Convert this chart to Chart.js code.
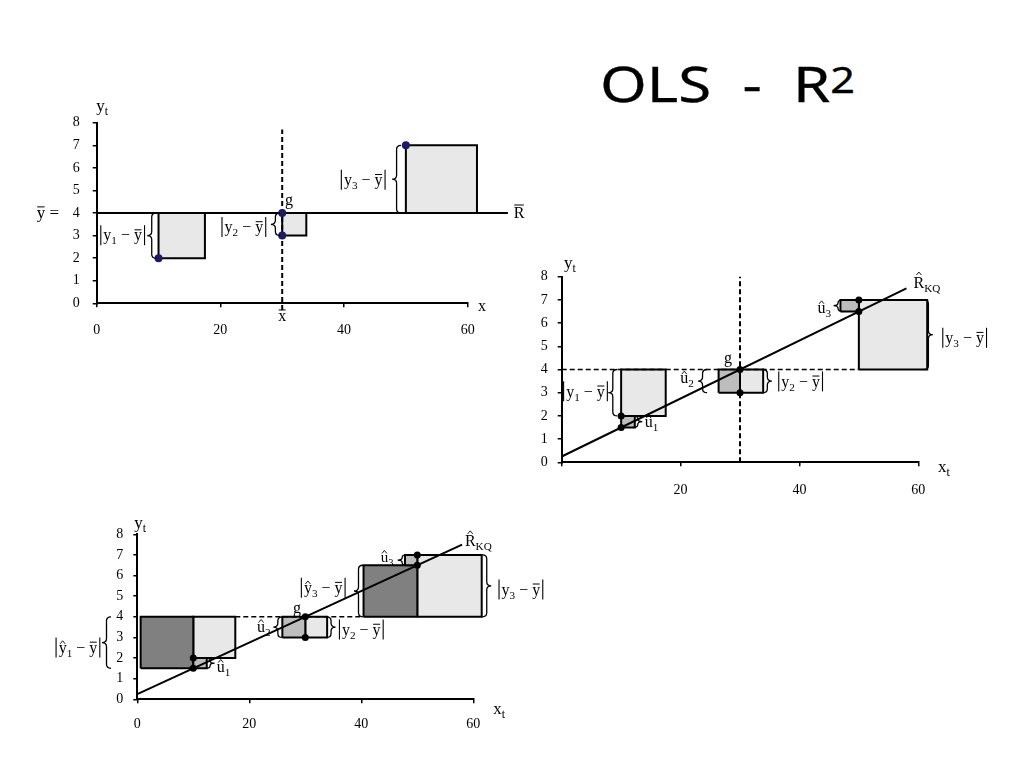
<!DOCTYPE html>
<html>
<head>
<meta charset="utf-8">
<script src="https://cdn.jsdelivr.net/npm/chart.js@4/dist/chart.umd.min.js"></script>
<style>
  body { margin: 0; background: #fff; width: 1024px; height: 768px; position: relative; overflow: hidden; }
  canvas { position: absolute; }
  #title { position: absolute; left: 600px; top: 55px; font-family: "Noto Sans"; font-size: 50px; line-height: 50px;
           word-spacing: 13px; color: #000; white-space: nowrap; -webkit-text-stroke: 0.3px #000;
           transform: scaleX(1.2); transform-origin: left top; }
  #title span { font-size: 36px; vertical-align: 9px; }
</style>
</head>
<body>
<div id="title">OLS - R<span>2</span></div>
<canvas id="c1"></canvas>
<canvas id="c2"></canvas>
<canvas id="c3"></canvas>
<script>
// values
const xTicks = [0, 20, 40, 60];
const yTicks = [0, 1, 2, 3, 4, 5, 6, 7, 8];
const obsX = [10, 30, 50];
const obsY = [2, 3, 7];
const fitY = [1.5, 4, 6.5];
const yMean = 4;
const xMean = 30;
const fitLineX = [0, 58];
const fitLineY = [0.25, 7.5];
// squares as [x0, y0, x1, y1]
const sqTotal = [[10, 2, 17.5, 4], [30, 3, 33.9, 4], [50, 4, 61.5, 7]];
const sqResid2 = [[10, 1.5, 12.3, 2], [26.4, 3, 30, 4], [46.9, 6.5, 50, 7]];
const sqResid3 = [[10, 1.5, 12.4, 2], [25.9, 3, 30, 4], [47.8, 6.5, 50, 7]];
const sqFit3 = [[0.6, 1.5, 10, 4], [40.4, 4, 50, 6.5]];
// extents of the guide lines
const meanLine1 = [0, 66.5];
const meanDash2 = [0, 50];
const meanDash3 = [17.5, 40.4];
const xMeanDash1 = [-0.3, 7.7];
const xMeanDash2 = [0, 8];

const SERIF = '"Liberation Serif", "DejaVu Serif", serif';
const LIGHT = '#e8e8e8', MID = '#bdbdbd', DARK = '#808080';

const pts = (xs, ys) => xs.map((x, i) => ({ x: x, y: ys[i] }));

function square(r, color) {
  return {
    data: [{ x: r[0], y: r[1] }, { x: r[2], y: r[1] }, { x: r[2], y: r[3] }, { x: r[0], y: r[3] }, { x: r[0], y: r[1] }],
    showLine: true, fill: false, squareFill: color, borderColor: '#000', borderWidth: 2,
    pointRadius: 0, tension: 0, clip: false
  };
}
function segment(data, dashed, width) {
  return {
    data: data, showLine: true, fill: false, borderColor: '#000', borderWidth: width || 2,
    borderDash: dashed ? [5, 3] : [], pointRadius: 0, clip: false
  };
}
function dots(data, color, r) {
  return { data: data, showLine: false, pointRadius: r, pointBackgroundColor: color, pointBorderColor: color,
           pointBorderWidth: 0, clip: false };
}

// fills the closed outline of a square dataset (the built-in filler clips to the plot area)
const squareFillPlugin = {
  id: 'squareFill',
  beforeDatasetDraw(chart, args) {
    const ds = chart.data.datasets[args.index];
    if (!ds.squareFill) return;
    const ctx = chart.ctx, p = args.meta.data;
    ctx.save();
    ctx.fillStyle = ds.squareFill;
    ctx.beginPath();
    p.forEach((pt, i) => i ? ctx.lineTo(pt.x, pt.y) : ctx.moveTo(pt.x, pt.y));
    ctx.closePath();
    ctx.fill();
    ctx.restore();
  }
};

// text with "_" subscripts, "¯" overline and "^" hat on the next letter
function drawRich(ctx, str, px, py, size, align) {
  const glyphs = [];
  let sub = false, mark = null;
  for (const c of str) {
    if (c === '_') { sub = true; continue; }
    if (c === '¯' || c === '^') { mark = c; continue; }
    if (c === ' ' || c === '|' || c === '−' || c === '=') sub = false;
    const fs = sub ? size * 0.7 : size;
    ctx.font = fs + 'px ' + SERIF;
    const w = c === '|' ? size * 0.32 : ctx.measureText(c).width;
    glyphs.push({ c: c, sub: sub, mark: mark, fs: fs, w: w });
    mark = null;
  }
  const total = glyphs.reduce((a, g) => a + g.w, 0);
  let gx = align === 'left' ? px : align === 'right' ? px - total : px - total / 2;
  const base = py + size * 0.3;
  ctx.textBaseline = 'alphabetic';
  ctx.textAlign = 'left';
  glyphs.forEach(g => {
    const by = g.sub ? base + size * 0.25 : base;
    if (g.c === '|') {
      ctx.lineWidth = 1.1;
      ctx.beginPath();
      ctx.moveTo(gx + g.w / 2, base + size * 0.3);
      ctx.lineTo(gx + g.w / 2, base - size * 0.95);
      ctx.stroke();
    } else {
      ctx.font = g.fs + 'px ' + SERIF;
      ctx.fillText(g.c, gx, by);
    }
    const upper = g.c !== g.c.toLowerCase();
    if (g.mark === '¯') {
      const ly = by - g.fs * (upper ? 0.8 : 0.66);
      ctx.lineWidth = 1;
      ctx.beginPath(); ctx.moveTo(gx + 0.5, ly); ctx.lineTo(gx + g.w - 0.5, ly); ctx.stroke();
    }
    if (g.mark === '^') {
      const hy = by - g.fs * (upper ? 0.78 : 0.56), cx = gx + g.w / 2;
      ctx.lineWidth = 0.9;
      ctx.beginPath(); ctx.moveTo(cx - 2.5, hy); ctx.lineTo(cx, hy - 3); ctx.lineTo(cx + 2.5, hy); ctx.stroke();
    }
    gx += g.w;
  });
}

// curly brace between two pixel heights; dir -1 points left, +1 points right
function drawBrace(ctx, x, top, bot, dir) {
  const w = 4.5, r = Math.min(4, (bot - top) / 4), mid = (top + bot) / 2;
  ctx.lineWidth = 1.3;
  ctx.beginPath();
  ctx.moveTo(x - dir * w, top);
  ctx.quadraticCurveTo(x, top, x, top + r);
  ctx.lineTo(x, mid - r);
  ctx.quadraticCurveTo(x, mid, x + dir * w, mid);
  ctx.quadraticCurveTo(x, mid, x, mid + r);
  ctx.lineTo(x, bot - r);
  ctx.quadraticCurveTo(x, bot, x - dir * w, bot);
  ctx.stroke();
}

const notesPlugin = {
  id: 'notes',
  afterDatasetsDraw(chart, args, opts) {
    const ctx = chart.ctx, sx = chart.scales.x, sy = chart.scales.y;
    ctx.save();
    ctx.fillStyle = '#000';
    ctx.strokeStyle = '#000';
    (opts.braces || []).forEach(b => {
      drawBrace(ctx, sx.getPixelForValue(b.x), sy.getPixelForValue(Math.max(b.y0, b.y1)),
                sy.getPixelForValue(Math.min(b.y0, b.y1)), b.dir);
    });
    (opts.texts || []).forEach(t => {
      drawRich(ctx, t.s, sx.getPixelForValue(t.x), sy.getPixelForValue(t.y), t.size || 16, t.align || 'center');
    });
    ctx.restore();
  }
};

function makeChart(id, box, area, pad, datasets, notes, hideZeroX) {
  const cv = document.getElementById(id);
  cv.width = box.w; cv.height = box.h;
  cv.style.left = box.x + 'px'; cv.style.top = box.y + 'px';
  return new Chart(cv, {
    type: 'scatter',
    data: { datasets: datasets },
    options: {
      responsive: false, animation: false, devicePixelRatio: 1,
      layout: { padding: { left: 0, bottom: 0, top: area.t - box.y, right: box.x + box.w - area.r } },
      plugins: { legend: { display: false }, tooltip: { enabled: false }, notes: notes },
      scales: {
        x: {
          type: 'linear', min: 0, max: 60,
          afterBuildTicks: s => { s.ticks = xTicks.map(v => ({ value: v })); },
          afterFit: s => { s.height = box.y + box.h - area.b; },
          ticks: { padding: pad.x, color: '#000', autoSkip: false, maxRotation: 0,
                   font: { family: SERIF, size: 14 },
                   callback: v => (hideZeroX && v === 0) ? '' : String(v) },
          grid: { drawOnChartArea: false, color: '#000', tickLength: 4, lineWidth: 1.5 },
          border: { color: '#000', width: 2 }
        },
        y: {
          type: 'linear', min: 0, max: 8,
          afterBuildTicks: s => { s.ticks = yTicks.map(v => ({ value: v })); },
          afterFit: s => { s.width = area.l - box.x; },
          ticks: { padding: pad.y, color: '#000', font: { family: SERIF, size: 14 } },
          grid: { drawOnChartArea: false, color: '#000', tickLength: 4, lineWidth: 1.5 },
          border: { color: '#000', width: 2 }
        }
      }
    },
    plugins: [squareFillPlugin, notesPlugin]
  });
}

// top-left: deviations from the mean
makeChart('c1', { x: 0, y: 80, w: 540, h: 270 }, { l: 96.7, r: 467.7, t: 122.7, b: 303.3 }, { x: 15, y: 13 },
  [
    dots(pts(obsX, obsY).concat([{ x: xMean, y: yMean }]), '#1c1c64', 4),
    segment(pts(meanLine1, [yMean, yMean]), false, 2),
    segment(pts([xMean, xMean], xMeanDash1), true, 2),
    ...sqTotal.map(r => square(r, LIGHT))
  ],
  {
    braces: [
      { x: 8.9, y0: obsY[0], y1: yMean, dir: -1 },
      { x: 28.9, y0: obsY[1], y1: yMean, dir: -1 },
      { x: 48.5, y0: yMean, y1: obsY[2], dir: -1 }
    ],
    texts: [
      { x: 0.9, y: 8.75, s: 'y_t', size: 17 },
      { x: -6.1, y: 4, s: '¯y =', size: 17, align: 'right' },
      { x: 62.3, y: -0.12, s: 'x' },
      { x: 68.3, y: 4, s: '¯R' },
      { x: 31.1, y: 4.57, s: 'g' },
      { x: 30, y: -0.55, s: '¯x' },
      { x: 4.2, y: 3.0, s: '|y_1 − ¯y|' },
      { x: 23.8, y: 3.36, s: '|y_2 − ¯y|' },
      { x: 43.1, y: 5.45, s: '|y_3 − ¯y|' }
    ]
  }, false);

// right: regression line with residual squares
makeChart('c2', { x: 520, y: 240, w: 500, h: 270 }, { l: 561.7, r: 918.3, t: 276.7, b: 462.3 }, { x: 15.5, y: 10 },
  [
    dots(pts(obsX, obsY).concat(pts(obsX, fitY)), '#000', 3.5),
    segment(pts(fitLineX, fitLineY), false, 2),
    segment(pts(meanDash2, [yMean, yMean]), true, 1.5),
    segment(pts([xMean, xMean], xMeanDash2), true, 2),
    ...sqResid2.map(r => square(r, MID)),
    ...sqTotal.map(r => square(r, LIGHT))
  ],
  {
    braces: [
      { x: 8.6, y0: obsY[0], y1: yMean, dir: -1 },
      { x: 12.8, y0: fitY[0], y1: obsY[0], dir: 1 },
      { x: 23.7, y0: obsY[1], y1: fitY[1], dir: -1 },
      { x: 34.6, y0: obsY[1], y1: yMean, dir: 1 },
      { x: 46.5, y0: fitY[2], y1: obsY[2], dir: -1 },
      { x: 61.7, y0: yMean, y1: obsY[2], dir: 1 }
    ],
    texts: [
      { x: 1.4, y: 8.6, s: 'y_t', size: 17 },
      { x: 64.3, y: -0.2, s: 'x_t', size: 17 },
      { x: 59.2, y: 7.74, s: '^R_KQ', align: 'left' },
      { x: 44.2, y: 6.65, s: '^u_3' },
      { x: 67.8, y: 5.35, s: '|y_3 − ¯y|' },
      { x: 28, y: 4.5, s: 'g' },
      { x: 21.1, y: 3.62, s: '^u_2' },
      { x: 40.2, y: 3.47, s: '|y_2 − ¯y|' },
      { x: 4.0, y: 3.04, s: '|y_1 − ¯y|' },
      { x: 15.1, y: 1.72, s: '^u_1' }
    ]
  }, true);

// bottom-left: explained squares added
makeChart('c3', { x: 30, y: 500, w: 540, h: 260 }, { l: 137.3, r: 473.3, t: 534.3, b: 699.3 }, { x: 13, y: 10 },
  [
    dots(pts(obsX, obsY).concat(pts(obsX, fitY)), '#000', 3.5),
    segment(pts(fitLineX, fitLineY), false, 2),
    segment(pts(meanDash3, [yMean, yMean]), true, 1.5),
    ...sqResid3.map(r => square(r, MID)),
    ...sqFit3.map(r => square(r, DARK)),
    ...sqTotal.map(r => square(r, LIGHT))
  ],
  {
    braces: [
      { x: -5.5, y0: fitY[0], y1: yMean, dir: -1 },
      { x: 13, y0: fitY[0], y1: obsY[0], dir: 1 },
      { x: 25.1, y0: obsY[1], y1: yMean, dir: -1 },
      { x: 34.6, y0: obsY[1], y1: yMean, dir: 1 },
      { x: 39.5, y0: yMean, y1: fitY[2], dir: -1 },
      { x: 47.3, y0: fitY[2], y1: obsY[2], dir: -1 },
      { x: 62.4, y0: yMean, y1: obsY[2], dir: 1 }
    ],
    texts: [
      { x: 0.5, y: 8.56, s: 'y_t', size: 17 },
      { x: 64.6, y: -0.45, s: 'x_t', size: 17 },
      { x: 58.5, y: 7.65, s: '^R_KQ', align: 'left' },
      { x: -10.6, y: 2.49, s: '|^y_1 − ¯y|' },
      { x: 15.4, y: 1.58, s: '^u_1' },
      { x: 22.6, y: 3.52, s: '^u_2' },
      { x: 28.5, y: 4.43, s: 'g' },
      { x: 40.0, y: 3.36, s: '|y_2 − ¯y|' },
      { x: 33.2, y: 5.39, s: '|^y_3 − ¯y|' },
      { x: 44.6, y: 6.88, s: '^u_3', size: 15 },
      { x: 68.5, y: 5.31, s: '|y_3 − ¯y|' }
    ]
  }, false);
</script>
</body>
</html>
